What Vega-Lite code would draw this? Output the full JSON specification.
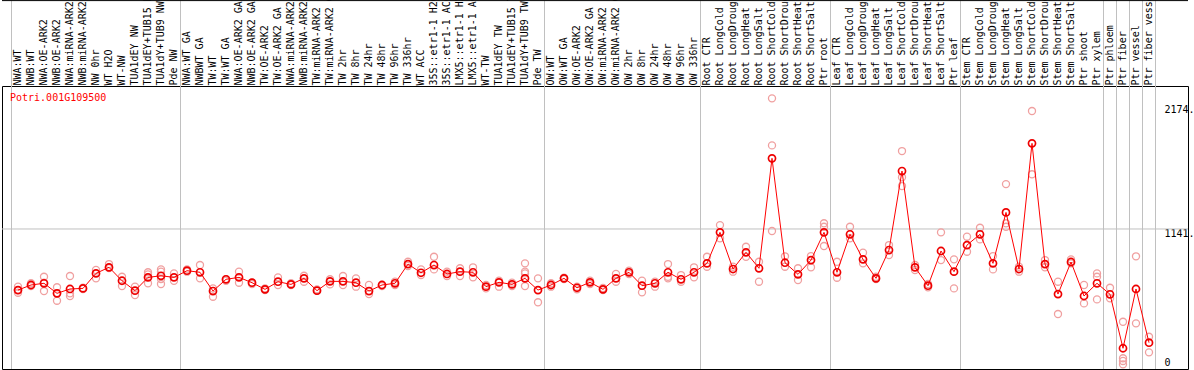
{
  "$schema": "https://vega.github.io/schema/vega-lite/v6.json",
  "width": 1186,
  "height": 283,
  "autosize": {"type": "none"},
  "padding": {"left": 2, "top": 86, "right": 6, "bottom": 1},
  "background": "white",
  "config": {
    "view": {"stroke": "black", "strokeWidth": 1},
    "axis": {"labelFont": "DejaVu Sans Mono", "labelFontSize": 10, "labelColor": "black"}
  },
  "resolve": {"axis": {"x": "independent", "y": "independent"}},
  "datasets": {
    "means": [
      {"lab": "NWA:WT", "v": 636}, {"lab": "NWB:WT", "v": 678}, {"lab": "NWA:OE-ARK2", "v": 692}, {"lab": "NWB:OE-ARK2", "v": 609},
      {"lab": "NWA:miRNA-ARK2", "v": 645}, {"lab": "NWB:miRNA-ARK2", "v": 650}, {"lab": "NW 0hr", "v": 774}, {"lab": "WT H2O", "v": 824},
      {"lab": "WT-NW", "v": 713}, {"lab": "TUA1dEY NW", "v": 631}, {"lab": "TUA1dEY+TUB15 NW", "v": 741}, {"lab": "TUA1dY+TUB9 NW", "v": 754},
      {"lab": "Pde NW", "v": 741}, {"lab": "NWA:WT GA", "v": 796}, {"lab": "NWBWT GA", "v": 783}, {"lab": "TW:WT", "v": 628},
      {"lab": "TW:WT GA", "v": 725}, {"lab": "NWA:OE-ARK2 GA", "v": 741}, {"lab": "NWB:OE-ARK2 GA", "v": 697}, {"lab": "TW:OE-ARK2", "v": 642},
      {"lab": "TW:OE-ARK2 GA", "v": 705}, {"lab": "NWA:miRNA-ARK2 GA", "v": 683}, {"lab": "NWB:miRNA-ARK2 GA", "v": 733}, {"lab": "TW:miRNA-ARK2", "v": 631},
      {"lab": "TW:miRNA-ARK2 GA", "v": 708}, {"lab": "TW 2hr", "v": 708}, {"lab": "TW 8hr", "v": 697}, {"lab": "TW 24hr", "v": 628},
      {"lab": "TW 48hr", "v": 678}, {"lab": "TW 96hr", "v": 692}, {"lab": "TW 336hr", "v": 851}, {"lab": "WT ACC", "v": 779},
      {"lab": "35S::etr1-1 H2O", "v": 843}, {"lab": "35S::etr1-1 ACC", "v": 769}, {"lab": "LMX5::etr1-1 H2O", "v": 788}, {"lab": "LMX5::etr1-1 ACC", "v": 783},
      {"lab": "WT-TW", "v": 664}, {"lab": "TUA1dEY TW", "v": 700}, {"lab": "TUA1dEY+TUB15 TW", "v": 683}, {"lab": "TUA1dY+TUB9 TW", "v": 733},
      {"lab": "Pde TW", "v": 636}, {"lab": "OW:WT", "v": 678}, {"lab": "OW:WT GA", "v": 733}, {"lab": "OW:OE-ARK2", "v": 655},
      {"lab": "OW:OE-ARK2 GA", "v": 700}, {"lab": "OW:miRNA-ARK2", "v": 642}, {"lab": "OW:miRNA-ARK2 GA", "v": 733}, {"lab": "OW 2hr", "v": 783},
      {"lab": "OW 8hr", "v": 672}, {"lab": "OW 24hr", "v": 692}, {"lab": "OW 48hr", "v": 783}, {"lab": "OW 96hr", "v": 725},
      {"lab": "OW 336hr", "v": 783}, {"lab": "Root CTR", "v": 857}, {"lab": "Root LongCold", "v": 1113}, {"lab": "Root LongDrought", "v": 810},
      {"lab": "Root LongHeat", "v": 948}, {"lab": "Root LongSalt", "v": 816}, {"lab": "Root ShortCold", "v": 1725}, {"lab": "Root ShortDrought", "v": 862},
      {"lab": "Root ShortHeat", "v": 766}, {"lab": "Root ShortSalt", "v": 884}, {"lab": "Ptr root", "v": 1113}, {"lab": "Leaf CTR", "v": 783},
      {"lab": "Leaf LongCold", "v": 1097}, {"lab": "Leaf LongDrought", "v": 890}, {"lab": "Leaf LongHeat", "v": 733}, {"lab": "Leaf LongSalt", "v": 967},
      {"lab": "Leaf ShortCold", "v": 1620}, {"lab": "Leaf ShortDrought", "v": 824}, {"lab": "Leaf ShortHeat", "v": 672}, {"lab": "Leaf ShortSalt", "v": 959},
      {"lab": "Ptr leaf", "v": 788}, {"lab": "Stem CTR", "v": 1008}, {"lab": "Stem LongCold", "v": 1097}, {"lab": "Stem LongDrought", "v": 857},
      {"lab": "Stem LongHeat", "v": 1278}, {"lab": "Stem LongSalt", "v": 810}, {"lab": "Stem ShortCold", "v": 1849}, {"lab": "Stem ShortDrought", "v": 851},
      {"lab": "Stem ShortHeat", "v": 603}, {"lab": "Stem ShortSalt", "v": 868}, {"lab": "Ptr shoot", "v": 587}, {"lab": "Ptr xylem", "v": 692},
      {"lab": "Ptr phloem", "v": 601}, {"lab": "Ptr fiber", "v": 155}, {"lab": "Ptr vessel", "v": 645}, {"lab": "Ptr fiber vessel", "v": 201}
    ],
    "reps": [
      {"lab": "NWA:WT", "v": 664}, {"lab": "NWA:WT", "v": 614}, {"lab": "NWA:WT", "v": 636},
      {"lab": "NWB:WT", "v": 692}, {"lab": "NWB:WT", "v": 669},
      {"lab": "NWA:OE-ARK2", "v": 746}, {"lab": "NWA:OE-ARK2", "v": 628}, {"lab": "NWA:OE-ARK2", "v": 697},
      {"lab": "NWB:OE-ARK2", "v": 659}, {"lab": "NWB:OE-ARK2", "v": 548}, {"lab": "NWB:OE-ARK2", "v": 609},
      {"lab": "NWA:miRNA-ARK2", "v": 752}, {"lab": "NWA:miRNA-ARK2", "v": 609}, {"lab": "NWA:miRNA-ARK2", "v": 587},
      {"lab": "NWB:miRNA-ARK2", "v": 655}, {"lab": "NWB:miRNA-ARK2", "v": 645},
      {"lab": "NW 0hr", "v": 802}, {"lab": "NW 0hr", "v": 733},
      {"lab": "WT H2O", "v": 851}, {"lab": "WT H2O", "v": 818},
      {"lab": "WT-NW", "v": 746}, {"lab": "WT-NW", "v": 669},
      {"lab": "TUA1dEY NW", "v": 664}, {"lab": "TUA1dEY NW", "v": 595},
      {"lab": "TUA1dEY+TUB15 NW", "v": 783}, {"lab": "TUA1dEY+TUB15 NW", "v": 766}, {"lab": "TUA1dEY+TUB15 NW", "v": 692},
      {"lab": "TUA1dY+TUB9 NW", "v": 807}, {"lab": "TUA1dY+TUB9 NW", "v": 788}, {"lab": "TUA1dY+TUB9 NW", "v": 727}, {"lab": "TUA1dY+TUB9 NW", "v": 686},
      {"lab": "Pde NW", "v": 774}, {"lab": "Pde NW", "v": 713},
      {"lab": "NWA:WT GA", "v": 807}, {"lab": "NWA:WT GA", "v": 788},
      {"lab": "NWBWT GA", "v": 843}, {"lab": "NWBWT GA", "v": 733},
      {"lab": "TW:WT", "v": 650}, {"lab": "TW:WT", "v": 581},
      {"lab": "TW:WT GA", "v": 725}, {"lab": "TW:WT GA", "v": 713},
      {"lab": "NWA:OE-ARK2 GA", "v": 788}, {"lab": "NWA:OE-ARK2 GA", "v": 697},
      {"lab": "NWB:OE-ARK2 GA", "v": 697}, {"lab": "NWB:OE-ARK2 GA", "v": 686},
      {"lab": "TW:OE-ARK2", "v": 650}, {"lab": "TW:OE-ARK2", "v": 636},
      {"lab": "TW:OE-ARK2 GA", "v": 741}, {"lab": "TW:OE-ARK2 GA", "v": 678},
      {"lab": "NWA:miRNA-ARK2 GA", "v": 692}, {"lab": "NWA:miRNA-ARK2 GA", "v": 678},
      {"lab": "NWB:miRNA-ARK2 GA", "v": 754}, {"lab": "NWB:miRNA-ARK2 GA", "v": 705},
      {"lab": "TW:miRNA-ARK2", "v": 642}, {"lab": "TW:miRNA-ARK2", "v": 631},
      {"lab": "TW:miRNA-ARK2 GA", "v": 725}, {"lab": "TW:miRNA-ARK2 GA", "v": 683},
      {"lab": "TW 2hr", "v": 752}, {"lab": "TW 2hr", "v": 678},
      {"lab": "TW 8hr", "v": 733}, {"lab": "TW 8hr", "v": 664},
      {"lab": "TW 24hr", "v": 678}, {"lab": "TW 24hr", "v": 603},
      {"lab": "TW 48hr", "v": 678}, {"lab": "TW 48hr", "v": 669},
      {"lab": "TW 96hr", "v": 705}, {"lab": "TW 96hr", "v": 678},
      {"lab": "TW 336hr", "v": 870}, {"lab": "TW 336hr", "v": 835},
      {"lab": "WT ACC", "v": 807}, {"lab": "WT ACC", "v": 760},
      {"lab": "35S::etr1-1 H2O", "v": 911}, {"lab": "35S::etr1-1 H2O", "v": 807},
      {"lab": "35S::etr1-1 ACC", "v": 788}, {"lab": "35S::etr1-1 ACC", "v": 752},
      {"lab": "LMX5::etr1-1 H2O", "v": 816}, {"lab": "LMX5::etr1-1 H2O", "v": 752},
      {"lab": "LMX5::etr1-1 ACC", "v": 824}, {"lab": "LMX5::etr1-1 ACC", "v": 741},
      {"lab": "WT-TW", "v": 678}, {"lab": "WT-TW", "v": 650},
      {"lab": "TUA1dEY TW", "v": 713}, {"lab": "TUA1dEY TW", "v": 664},
      {"lab": "TUA1dEY+TUB15 TW", "v": 697}, {"lab": "TUA1dEY+TUB15 TW", "v": 669},
      {"lab": "TUA1dY+TUB9 TW", "v": 857}, {"lab": "TUA1dY+TUB9 TW", "v": 788}, {"lab": "TUA1dY+TUB9 TW", "v": 774}, {"lab": "TUA1dY+TUB9 TW", "v": 669},
      {"lab": "Pde TW", "v": 733}, {"lab": "Pde TW", "v": 535},
      {"lab": "OW:WT", "v": 692}, {"lab": "OW:WT", "v": 664},
      {"lab": "OW:WT GA", "v": 738}, {"lab": "OW:WT GA", "v": 727},
      {"lab": "OW:OE-ARK2", "v": 664}, {"lab": "OW:OE-ARK2", "v": 642},
      {"lab": "OW:OE-ARK2 GA", "v": 713}, {"lab": "OW:OE-ARK2 GA", "v": 686},
      {"lab": "OW:miRNA-ARK2", "v": 653}, {"lab": "OW:miRNA-ARK2", "v": 636},
      {"lab": "OW:miRNA-ARK2 GA", "v": 769}, {"lab": "OW:miRNA-ARK2 GA", "v": 705},
      {"lab": "OW 2hr", "v": 796}, {"lab": "OW 2hr", "v": 769},
      {"lab": "OW 8hr", "v": 713}, {"lab": "OW 8hr", "v": 617},
      {"lab": "OW 24hr", "v": 705}, {"lab": "OW 24hr", "v": 664},
      {"lab": "OW 48hr", "v": 851}, {"lab": "OW 48hr", "v": 746}, {"lab": "OW 48hr", "v": 733},
      {"lab": "OW 96hr", "v": 760}, {"lab": "OW 96hr", "v": 705},
      {"lab": "OW 336hr", "v": 824}, {"lab": "OW 336hr", "v": 741},
      {"lab": "Root CTR", "v": 911}, {"lab": "Root CTR", "v": 829},
      {"lab": "Root LongCold", "v": 1173}, {"lab": "Root LongCold", "v": 1064},
      {"lab": "Root LongDrought", "v": 829}, {"lab": "Root LongDrought", "v": 788},
      {"lab": "Root LongHeat", "v": 994}, {"lab": "Root LongHeat", "v": 911},
      {"lab": "Root LongSalt", "v": 870}, {"lab": "Root LongSalt", "v": 705},
      {"lab": "Root ShortCold", "v": 2221}, {"lab": "Root ShortCold", "v": 1832}, {"lab": "Root ShortCold", "v": 1124},
      {"lab": "Root ShortDrought", "v": 915}, {"lab": "Root ShortDrought", "v": 829},
      {"lab": "Root ShortHeat", "v": 816}, {"lab": "Root ShortHeat", "v": 719},
      {"lab": "Root ShortSalt", "v": 917}, {"lab": "Root ShortSalt", "v": 824},
      {"lab": "Ptr root", "v": 1188}, {"lab": "Ptr root", "v": 1159}, {"lab": "Ptr root", "v": 1000},
      {"lab": "Leaf CTR", "v": 870}, {"lab": "Leaf CTR", "v": 738},
      {"lab": "Leaf LongCold", "v": 1159}, {"lab": "Leaf LongCold", "v": 1064},
      {"lab": "Leaf LongDrought", "v": 945}, {"lab": "Leaf LongDrought", "v": 857},
      {"lab": "Leaf LongHeat", "v": 746}, {"lab": "Leaf LongHeat", "v": 727},
      {"lab": "Leaf LongSalt", "v": 1008}, {"lab": "Leaf LongSalt", "v": 926},
      {"lab": "Leaf ShortCold", "v": 1785}, {"lab": "Leaf ShortCold", "v": 1568}, {"lab": "Leaf ShortCold", "v": 1496},
      {"lab": "Leaf ShortDrought", "v": 843}, {"lab": "Leaf ShortDrought", "v": 802},
      {"lab": "Leaf ShortHeat", "v": 686}, {"lab": "Leaf ShortHeat", "v": 659},
      {"lab": "Leaf ShortSalt", "v": 1113}, {"lab": "Leaf ShortSalt", "v": 884},
      {"lab": "Ptr leaf", "v": 890}, {"lab": "Ptr leaf", "v": 650},
      {"lab": "Stem CTR", "v": 1077}, {"lab": "Stem CTR", "v": 953},
      {"lab": "Stem LongCold", "v": 1151}, {"lab": "Stem LongCold", "v": 1055},
      {"lab": "Stem LongDrought", "v": 917}, {"lab": "Stem LongDrought", "v": 807},
      {"lab": "Stem LongHeat", "v": 1512}, {"lab": "Stem LongHeat", "v": 1159}, {"lab": "Stem LongHeat", "v": 1188},
      {"lab": "Stem LongSalt", "v": 829}, {"lab": "Stem LongSalt", "v": 788},
      {"lab": "Stem ShortCold", "v": 2116}, {"lab": "Stem ShortCold", "v": 1593},
      {"lab": "Stem ShortDrought", "v": 884}, {"lab": "Stem ShortDrought", "v": 824},
      {"lab": "Stem ShortHeat", "v": 705}, {"lab": "Stem ShortHeat", "v": 438},
      {"lab": "Stem ShortSalt", "v": 890}, {"lab": "Stem ShortSalt", "v": 857},
      {"lab": "Ptr shoot", "v": 678}, {"lab": "Ptr shoot", "v": 526},
      {"lab": "Ptr xylem", "v": 774}, {"lab": "Ptr xylem", "v": 746}, {"lab": "Ptr xylem", "v": 559},
      {"lab": "Ptr phloem", "v": 655}, {"lab": "Ptr phloem", "v": 568},
      {"lab": "Ptr fiber", "v": 374}, {"lab": "Ptr fiber", "v": 72}, {"lab": "Ptr fiber", "v": 22}, {"lab": "Ptr fiber", "v": 50},
      {"lab": "Ptr vessel", "v": 915}, {"lab": "Ptr vessel", "v": 361},
      {"lab": "Ptr fiber vessel", "v": 250}, {"lab": "Ptr fiber vessel", "v": 121}
    ],
    "groupStarts": [
      {"lab": "NWA:WT"}, {"lab": "NWA:WT GA"}, {"lab": "OW:WT"}, {"lab": "Root CTR"}, {"lab": "Leaf CTR"},
      {"lab": "Stem CTR"}, {"lab": "Ptr phloem"}, {"lab": "Ptr fiber"}, {"lab": "Ptr vessel"}, {"lab": "Ptr fiber vessel"}
    ],
    "groupEnd": [{"lab": "Ptr fiber vessel"}],
    "gene": [{"lab": "NWA:WT", "name": "Potri.001G109500"}],
    "grid": [{"v": 1141}],
    "topline": [{"v": 3029}]
  },
  "layer": [
    {
      "data": {"name": "groupStarts"},
      "mark": {"type": "rule", "color": "#c0c0c0", "strokeWidth": 1, "clip": false},
      "encoding": {
        "x": {"field": "lab", "type": "nominal", "bandPosition": 0, "axis": null},
        "y": {"datum": 3030, "type": "quantitative", "axis": null},
        "y2": {"datum": -16.5}
      }
    },
    {
      "data": {"name": "groupEnd"},
      "mark": {"type": "rule", "color": "#c0c0c0", "strokeWidth": 1, "clip": false},
      "encoding": {
        "x": {"field": "lab", "type": "nominal", "bandPosition": 1, "axis": null},
        "y": {"datum": 3030, "type": "quantitative", "axis": null},
        "y2": {"datum": -16.5}
      }
    },
    {
      "data": {"name": "grid"},
      "mark": {"type": "rule", "color": "#c0c0c0", "strokeWidth": 1},
      "encoding": {
        "y": {"field": "v", "type": "quantitative", "axis": null}
      }
    },
    {
      "data": {"name": "topline"},
      "mark": {"type": "rule", "color": "black", "strokeWidth": 1, "clip": false},
      "encoding": {
        "y": {"field": "v", "type": "quantitative", "axis": null}
      }
    },
    {
      "data": {"name": "reps"},
      "mark": {"type": "point", "shape": "circle", "filled": false, "size": 50, "stroke": "#f0a0a0", "strokeWidth": 1.3, "opacity": 1},
      "encoding": {
        "x": {"field": "lab", "type": "nominal", "axis": null},
        "y": {"field": "v", "type": "quantitative", "axis": null}
      }
    },
    {
      "data": {"name": "means"},
      "mark": {"type": "line", "color": "#ff0000", "strokeWidth": 1},
      "encoding": {
        "x": {"field": "lab", "type": "nominal", "sort": null, "axis": null},
        "y": {"field": "v", "type": "quantitative", "axis": null}
      }
    },
    {
      "data": {"name": "means"},
      "mark": {"type": "point", "shape": "circle", "filled": false, "size": 50, "stroke": "#ee0000", "strokeWidth": 1.7, "opacity": 1},
      "encoding": {
        "x": {
          "field": "lab", "type": "nominal",
          "scale": {
            "type": "band", "paddingInner": 0, "paddingOuter": 0, "range": [9.5, 1153.5],
            "domain": ["NWA:WT", "NWB:WT", "NWA:OE-ARK2", "NWB:OE-ARK2", "NWA:miRNA-ARK2", "NWB:miRNA-ARK2", "NW 0hr", "WT H2O", "WT-NW", "TUA1dEY NW", "TUA1dEY+TUB15 NW", "TUA1dY+TUB9 NW", "Pde NW", "NWA:WT GA", "NWBWT GA", "TW:WT", "TW:WT GA", "NWA:OE-ARK2 GA", "NWB:OE-ARK2 GA", "TW:OE-ARK2", "TW:OE-ARK2 GA", "NWA:miRNA-ARK2 GA", "NWB:miRNA-ARK2 GA", "TW:miRNA-ARK2", "TW:miRNA-ARK2 GA", "TW 2hr", "TW 8hr", "TW 24hr", "TW 48hr", "TW 96hr", "TW 336hr", "WT ACC", "35S::etr1-1 H2O", "35S::etr1-1 ACC", "LMX5::etr1-1 H2O", "LMX5::etr1-1 ACC", "WT-TW", "TUA1dEY TW", "TUA1dEY+TUB15 TW", "TUA1dY+TUB9 TW", "Pde TW", "OW:WT", "OW:WT GA", "OW:OE-ARK2", "OW:OE-ARK2 GA", "OW:miRNA-ARK2", "OW:miRNA-ARK2 GA", "OW 2hr", "OW 8hr", "OW 24hr", "OW 48hr", "OW 96hr", "OW 336hr", "Root CTR", "Root LongCold", "Root LongDrought", "Root LongHeat", "Root LongSalt", "Root ShortCold", "Root ShortDrought", "Root ShortHeat", "Root ShortSalt", "Ptr root", "Leaf CTR", "Leaf LongCold", "Leaf LongDrought", "Leaf LongHeat", "Leaf LongSalt", "Leaf ShortCold", "Leaf ShortDrought", "Leaf ShortHeat", "Leaf ShortSalt", "Ptr leaf", "Stem CTR", "Stem LongCold", "Stem LongDrought", "Stem LongHeat", "Stem LongSalt", "Stem ShortCold", "Stem ShortDrought", "Stem ShortHeat", "Stem ShortSalt", "Ptr shoot", "Ptr xylem", "Ptr phloem", "Ptr fiber", "Ptr vessel", "Ptr fiber vessel"]
          },
          "axis": {
            "orient": "top", "title": null, "ticks": false, "domain": false, "grid": false,
            "labelAngle": -90, "labelAlign": "left", "labelBaseline": "middle", "labelPadding": 1,
            "labelOverlap": false
          }
        },
        "y": {
          "field": "v", "type": "quantitative",
          "scale": {"domain": [-16.5, 2323], "nice": false, "zero": false},
          "axis": {
            "orient": "right", "title": null, "values": [0, 1141, 2174], "ticks": false, "domain": false, "grid": false,
            "labelPadding": -24, "labelAlign": "left",
            "labelBaseline": {"condition": {"test": "datum.value == 0", "value": "bottom"}, "value": "top"},
            "labelExpr": "datum.value == 0 ? '0' : datum.value + '.'",
            "labelFlush": false, "labelOverlap": false
          }
        }
      }
    },
    {
      "data": {"name": "gene"},
      "mark": {"type": "text", "font": "DejaVu Sans Mono", "fontSize": 10, "color": "#ff0000", "align": "left", "baseline": "middle", "dx": -1.5},
      "encoding": {
        "x": {"field": "lab", "type": "nominal", "bandPosition": 0, "axis": null},
        "y": {"datum": 2226, "type": "quantitative", "axis": null},
        "text": {"field": "name"}
      }
    }
  ]
}
